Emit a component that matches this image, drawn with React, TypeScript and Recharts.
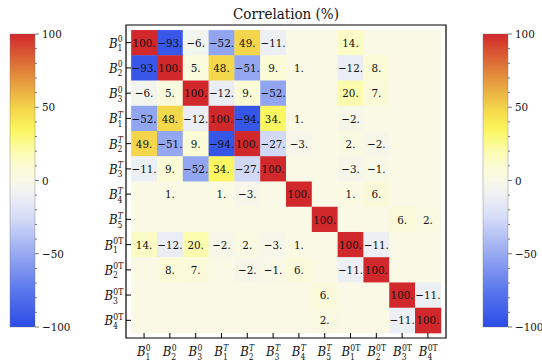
import { ScatterChart, Scatter, XAxis, YAxis, ReferenceArea, BarChart, Bar } from 'recharts';

// axis labels: B_{sub}^{sup}
const labelSub = ['1', '2', '3', '1', '2', '3', '4', '5', '1', '2', '3', '4'];
const labelSup = ['0', '0', '0', 'T', 'T', 'T', 'T', 'T', '0T', '0T', '0T', '0T'];

// correlation rows (%), 0 = blank cell
const rowB1_0 = [100, -93, -6, -52, 49, -11, 0, 0, 14, 0, 0, 0];
const rowB2_0 = [-93, 100, 5, 48, -51, 9, 1, 0, -12, 8, 0, 0];
const rowB3_0 = [-6, 5, 100, -12, 9, -52, 0, 0, 20, 7, 0, 0];
const rowB1_T = [-52, 48, -12, 100, -94, 34, 1, 0, -2, 0, 0, 0];
const rowB2_T = [49, -51, 9, -94, 100, -27, -3, 0, 2, -2, 0, 0];
const rowB3_T = [-11, 9, -52, 34, -27, 100, 0, 0, -3, -1, 0, 0];
const rowB4_T = [0, 1, 0, 1, -3, 0, 100, 0, 1, 6, 0, 0];
const rowB5_T = [0, 0, 0, 0, 0, 0, 0, 100, 0, 0, 6, 2];
const rowB1_0T = [14, -12, 20, -2, 2, -3, 1, 0, 100, -11, 0, 0];
const rowB2_0T = [0, 8, 7, 0, -2, -1, 6, 0, -11, 100, 0, 0];
const rowB3_0T = [0, 0, 0, 0, 0, 0, 0, 6, 0, 0, 100, -11];
const rowB4_0T = [0, 0, 0, 0, 0, 0, 0, 2, 0, 0, -11, 100];

const corrRows = [
  rowB1_0, rowB2_0, rowB3_0, rowB1_T, rowB2_T, rowB3_T,
  rowB4_T, rowB5_T, rowB1_0T, rowB2_0T, rowB3_0T, rowB4_0T,
];

const colorbarTicks = [-100, -90, -80, -70, -60, -50, -40, -30, -20, -10, 0, 10, 20, 30, 40, 50, 60, 70, 80, 90, 100];
const colorbarLabels = [-100, -50, 0, 50, 100];

const cmapStops: [number, string][] = [
  [-100, '#2a4be6'],
  [-75, '#5b77ec'],
  [-50, '#97a9f1'],
  [-25, '#d6ddf7'],
  [-10, '#eef0f4'],
  [0, '#f9f9e6'],
  [10, '#fbfbd4'],
  [20, '#fcfcae'],
  [35, '#fbf65c'],
  [50, '#f3d34a'],
  [75, '#e0823a'],
  [100, '#d1282c'],
];

const FONT = 'DejaVu Serif Condensed';

const hexToRgb = (h: string) => [1, 3, 5].map((i) => parseInt(h.slice(i, i + 2), 16));

const colorFor = (v: number) => {
  for (let i = 1; i < cmapStops.length; i++) {
    const [v1, c1] = cmapStops[i];
    const [v0, c0] = cmapStops[i - 1];
    if (v <= v1) {
      const t = (v - v0) / (v1 - v0);
      const a = hexToRgb(c0);
      const b = hexToRgb(c1);
      const m = a.map((x, k) => Math.round(x + (b[k] - x) * t));
      return `rgb(${m[0]},${m[1]},${m[2]})`;
    }
  }
  return cmapStops[cmapStops.length - 1][1];
};

const fmt = (v: number) => (v < 0 ? '\u2212' : '') + Math.abs(v);

const cells = corrRows.flatMap((row, r) => row.map((v, c) => ({ col: c, row: r, v })));
const tickIdx = labelSub.map((_, i) => i);

// main plot geometry
const W = 542;
const H = 364;
const Y_AXIS_W = 126;
const M_RIGHT = 96;
const M_TOP = 25;
const X_AXIS_H = 26;
const DOMAIN: [number, number] = [-0.7, 11.7];
const SPAN = DOMAIN[1] - DOMAIN[0];
const CELL_W = (W - Y_AXIS_W - M_RIGHT) / SPAN;
const CELL_H = (H - M_TOP - X_AXIS_H) / SPAN;

const HeatCell = (props: any) => {
  const { cx, cy, payload } = props;
  return (
    <g>
      <rect
        x={cx - CELL_W / 2}
        y={cy - CELL_H / 2}
        width={CELL_W + 0.4}
        height={CELL_H + 0.4}
        fill={colorFor(payload.v)}
      />
      {payload.v !== 0 && (
        <text x={cx} y={cy} dy="0.36em" textAnchor="middle" fontSize={11.5} fill="#111" style={{ fontFamily: FONT }}>
          {fmt(payload.v) + '.'}
        </text>
      )}
    </g>
  );
};

// label whose right end is at (ax, ay), vertically centred there
const BLabel = ({ idx, ax, ay }: { idx: number; ax: number; ay: number }) => {
  const sup = labelSup[idx];
  const sub = labelSub[idx];
  const sw = sup.length > 1 ? 10 : 5.5;
  return (
    <g fill="#111" style={{ fontFamily: FONT }}>
      <text x={ax - sw} y={ay + 5} textAnchor="end" fontSize={13} fontStyle="italic">B</text>
      <text x={ax - sw + 0.3} y={ay - 0.5} fontSize={8.5} fontStyle={sup === 'T' ? 'italic' : 'normal'}>{sup}</text>
      <text x={ax - sw} y={ay + 8.5} fontSize={8.5}>{sub}</text>
    </g>
  );
};

const YTick = (props: any) => {
  const { x, y, payload } = props;
  return (
    <g>
      <line x1={x} x2={x + 5} y1={y} y2={y} stroke="#000" strokeWidth={1} />
      <BLabel idx={payload.value} ax={x - 3} ay={y} />
    </g>
  );
};

const XTick = (props: any) => {
  const { x, y, payload } = props;
  const half = labelSup[payload.value].length > 1 ? 9.5 : 7;
  return (
    <g>
      <line x1={x} x2={x} y1={y} y2={y - 5} stroke="#000" strokeWidth={1} />
      <BLabel idx={payload.value} ax={x + half} ay={y + 13} />
    </g>
  );
};

const CbTick = (props: any) => {
  const { x, y, payload } = props;
  const v = payload.value;
  const major = colorbarLabels.includes(v);
  return (
    <g>
      <line x1={x} x2={x + (major ? 4 : 2)} y1={y} y2={y} stroke="#555" strokeWidth={0.8} />
      {major && (
        <text x={x + 7} y={y} dy="0.36em" fontSize={11.5} fill="#111" style={{ fontFamily: FONT }}>
          {fmt(v)}
        </text>
      )}
    </g>
  );
};

const colorbarData = [{ name: 'scale', range: [-100, 100] }];

const Colorbar = ({ id, left, width }: { id: string; left: number; width: number }) => (
  <div style={{ position: 'absolute', left, top: 0 }}>
    <BarChart
      width={width}
      height={H}
      data={colorbarData}
      margin={{ top: 34, right: 0, bottom: 37, left: 10 }}
      barCategoryGap={0}
    >
      <defs>
        <linearGradient id={id} x1="0" y1="1" x2="0" y2="0">
          {cmapStops.map(([v, c]) => (
            <stop key={v} offset={(v + 100) / 200} stopColor={c} />
          ))}
        </linearGradient>
      </defs>
      <XAxis dataKey="name" hide />
      <YAxis
        orientation="right"
        type="number"
        domain={[-100, 100]}
        ticks={colorbarTicks}
        interval={0}
        width={width - 35}
        axisLine={false}
        tickLine={false}
        tickSize={0}
        tickMargin={0}
        tick={<CbTick />}
      />
      <Bar dataKey="range" fill={`url(#${id})`} stroke="#777" strokeWidth={0.4} isAnimationActive={false} />
    </BarChart>
  </div>
);

export default function App() {
  return (
    <div style={{ position: 'absolute', left: 0, top: 0, width: W, height: H, background: '#fff', fontFamily: FONT, overflow: 'hidden' }}>
      <div
        style={{
          position: 'absolute',
          left: Y_AXIS_W,
          top: 4,
          width: W - Y_AXIS_W - M_RIGHT,
          textAlign: 'center',
          fontFamily: FONT,
          fontSize: 15,
          lineHeight: '20px',
          color: '#111',
        }}
      >
        Correlation (%)
      </div>
      <div style={{ position: 'absolute', left: 0, top: 0 }}>
        <ScatterChart width={W} height={H} margin={{ top: M_TOP, right: M_RIGHT, bottom: 0, left: 0 }}>
          <XAxis
            dataKey="col"
            type="number"
            domain={DOMAIN}
            ticks={tickIdx}
            interval={0}
            height={X_AXIS_H}
            axisLine={false}
            tickLine={false}
            tickSize={0}
            tickMargin={0}
            tick={<XTick />}
            allowDataOverflow
          />
          <YAxis
            dataKey="row"
            type="number"
            domain={DOMAIN}
            ticks={tickIdx}
            interval={0}
            reversed
            width={Y_AXIS_W}
            axisLine={false}
            tickLine={false}
            tickSize={0}
            tickMargin={0}
            tick={<YTick />}
            allowDataOverflow
          />
          <Scatter data={cells} shape={HeatCell} isAnimationActive={false} />
          <ReferenceArea
            x1={DOMAIN[0]}
            x2={DOMAIN[1]}
            y1={DOMAIN[0]}
            y2={DOMAIN[1]}
            fill="none"
            stroke="#000"
            strokeWidth={1.2}
            ifOverflow="visible"
          />
        </ScatterChart>
      </div>
      <Colorbar id="cmapL" left={0} width={80} />
      <Colorbar id="cmapR" left={473} width={69} />
    </div>
  );
}
